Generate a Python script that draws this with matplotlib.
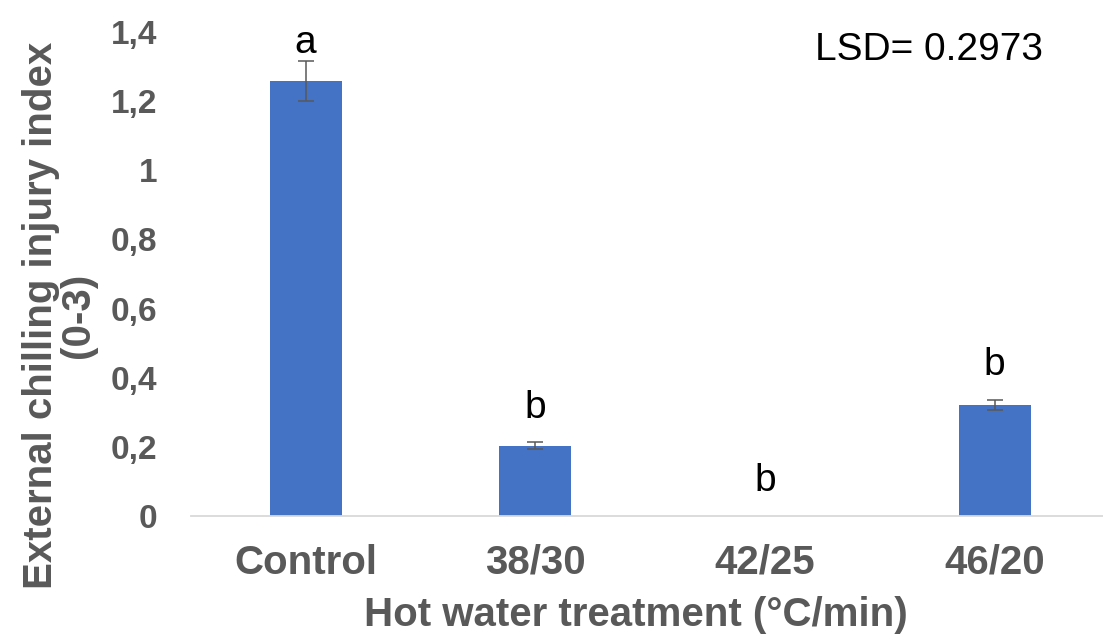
import matplotlib.pyplot as plt
from matplotlib.ticker import FuncFormatter

# Data
treatments = ["Control", "38/30", "42/25", "46/20"]
injury_index = [1.258, 0.203, 0.0, 0.321]
std_err = [0.058, 0.010, 0.0, 0.015]
letters = ["a", "b", "b", "b"]
y_ticks = [0, 0.2, 0.4, 0.6, 0.8, 1.0, 1.2, 1.4]

plt.rcParams["font.family"] = ["Liberation Sans", "DejaVu Sans"]

fig = plt.figure(figsize=(11.03, 6.44), dpi=100)
ax = fig.add_axes([0.173, 0.199, 0.833, 0.751])

x = list(range(len(treatments)))
ax.bar(x, injury_index, width=0.313, color="#4472C4", zorder=2)

# error bars only where there is an error value
eb = [(i, v, e) for i, v, e in zip(x, injury_index, std_err) if e > 0]
ax.errorbar([b[0] for b in eb], [b[1] for b in eb], yerr=[b[2] for b in eb],
            fmt="none", ecolor="#595959", elinewidth=1.1, capsize=6,
            capthick=1.1, zorder=3)

# Significance letters
for i, (v, e, lab) in enumerate(zip(injury_index, std_err, letters)):
    off = 12 if v + e < 1.2 else 0
    ax.annotate(lab, xy=(i, v + e), xytext=(0, off), textcoords="offset points",
                ha="center", va="bottom", fontsize=28, color="black",
                annotation_clip=False)

ax.set_xlim(-0.5, len(treatments) - 0.5)
ax.set_ylim(0, 1.4)
ax.set_yticks(y_ticks)
ax.yaxis.set_major_formatter(
    FuncFormatter(lambda v, p: ("%g" % v).replace(".", ",")))
ax.set_xticks(x)
ax.set_xticklabels(treatments)

for s in ["top", "right", "left"]:
    ax.spines[s].set_visible(False)
ax.spines["bottom"].set_color("#D9D9D9")
ax.spines["bottom"].set_linewidth(1.3)
ax.tick_params(axis="both", length=0, labelcolor="#595959")
ax.tick_params(axis="y", labelsize=24, pad=24)
ax.tick_params(axis="x", labelsize=29, pad=20)
for t in ax.get_xticklabels() + ax.get_yticklabels():
    t.set_fontweight("bold")

ax.set_xlabel("Hot water treatment (°C/min)", fontsize=29, fontweight="bold",
              color="#595959", va="center")
ax.xaxis.set_label_coords(0.484, -0.205)
fig.text(0.054, 0.51, "External chilling injury index\n(0-3)", rotation=90,
         ha="center", va="center", fontsize=29, fontweight="bold",
         color="#595959", linespacing=0.95)

fig.text(0.946, 0.922, "LSD= 0.2973", ha="right", va="center", fontsize=28,
         color="black")

plt.savefig("out.png", dpi=100)
